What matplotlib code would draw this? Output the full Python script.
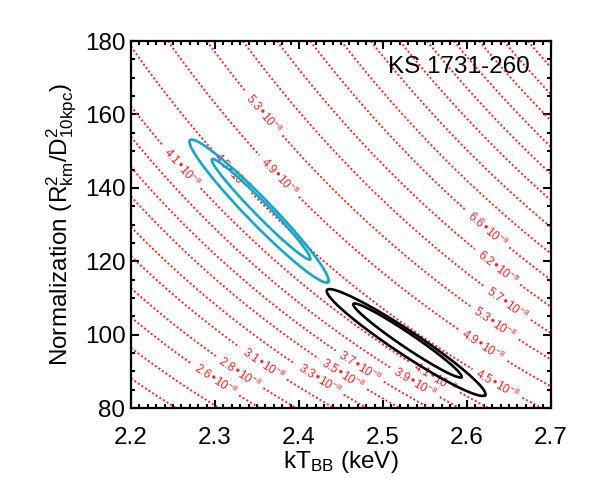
import numpy as np
import matplotlib
matplotlib.use('Agg')
import matplotlib.pyplot as plt
from matplotlib.ticker import MultipleLocator

plt.rcParams['font.family'] = ['Liberation Sans', 'DejaVu Sans']
plt.rcParams['mathtext.default'] = 'regular'

# axis ranges
kt_range = [2.2, 2.7]
norm_range = [80, 180]

# bolometric blackbody flux F = coeff * N * kT^4 (erg/cm^2/s)
flux_coeff = 1.076e-11
# contour levels (units of 1e-8)
flux_levels = [2.22, 2.43, 2.64, 2.84, 3.06, 3.26, 3.47, 3.67, 3.88, 4.09,
               4.50, 4.91, 5.33, 5.74, 6.15, 6.57, 6.98, 7.39, 7.81, 8.22,
               8.64, 9.05, 9.46, 9.88]

# which level gets a label, and at what kT along that line
label_levels = [2.64, 2.84, 3.06, 3.26, 3.47, 3.67, 3.88, 4.09, 4.50,
                4.91, 5.33, 5.74, 6.15, 6.57,
                5.33, 4.09, 4.91, 4.50]
label_kt = [2.300, 2.329, 2.357, 2.424, 2.452, 2.472, 2.538, 2.562, 2.636,
            2.619, 2.633, 2.648, 2.636, 2.624,
            2.358, 2.260, 2.376, 2.320]

# confidence contours: center, half major axis, half minor axis (data units)
ell_centers = [(2.3524, 133.68), (2.3547, 134.20), (2.5274, 97.85), (2.5290, 98.41)]
ell_major = [(0.0821, -19.35), (0.0583, -13.62), (0.0941, -14.30), (0.0643, -9.95)]
ell_minor = [(0.0107, 2.38), (0.0060, 1.33), (0.0079, 2.72), (0.0046, 1.59)]
ell_colors = ['#17a5c8', '#17a5c8', 'black', 'black']

fig = plt.figure(figsize=(5.9, 5.01), dpi=100)
ax = fig.add_axes([0.222, 0.1856, 0.712, 0.7324])

# flux grid
kt = np.linspace(kt_range[0], kt_range[1], 300)
nn = np.linspace(norm_range[0], norm_range[1], 300)
KT, NN = np.meshgrid(kt, nn)
flux = flux_coeff * NN * KT**4 / 1e-8

cs = ax.contour(KT, NN, flux, levels=flux_levels, colors='#ff2020',
                linewidths=1.4, linestyles=[(0, (1, 1.2))])

ax.set_xlim(kt_range)
ax.set_ylim(norm_range)


def fmt(v):
    return '%.1f\u202210$^{-8}$' % v


# put each label point right on its line
label_pos = [(x, lv * 1e-8 / (flux_coeff * x**4))
             for lv, x in zip(label_levels, label_kt)]
ax.clabel(cs, manual=label_pos, inline=True, fontsize=8.5, fmt=fmt)

# confidence ellipses
th = np.linspace(0, 2 * np.pi, 400)
for c, u, v, col in zip(ell_centers, ell_major, ell_minor, ell_colors):
    ex = c[0] + u[0] * np.cos(th) + v[0] * np.sin(th)
    ey = c[1] + u[1] * np.cos(th) + v[1] * np.sin(th)
    ax.plot(ex, ey, color=col, lw=1.9, zorder=5)

ax.text(0.95, 0.93, 'KS 1731-260', transform=ax.transAxes, ha='right',
        va='center', fontsize=17.5, zorder=6)

ax.xaxis.set_major_locator(MultipleLocator(0.1))
ax.xaxis.set_minor_locator(MultipleLocator(0.01))
ax.yaxis.set_major_locator(MultipleLocator(20))
ax.yaxis.set_minor_locator(MultipleLocator(5))
ax.tick_params(which='both', direction='in', top=True, right=True, width=1.5)
ax.tick_params(which='major', length=6)
ax.tick_params(which='minor', length=3)
ax.tick_params(axis='x', which='major', labelsize=17.5, pad=14)
ax.tick_params(axis='y', which='major', labelsize=17.5, pad=4)
for s in ax.spines.values():
    s.set_linewidth(1.6)

ax.set_xlabel(r'kT$_{BB}$ (keV)', fontsize=17.5, labelpad=0)
ax.set_ylabel(r'Normalization (R$^2_{km}$/D$^2_{10kpc}$)', fontsize=17.5,
              labelpad=4)

fig.savefig('out.png', dpi=100)
